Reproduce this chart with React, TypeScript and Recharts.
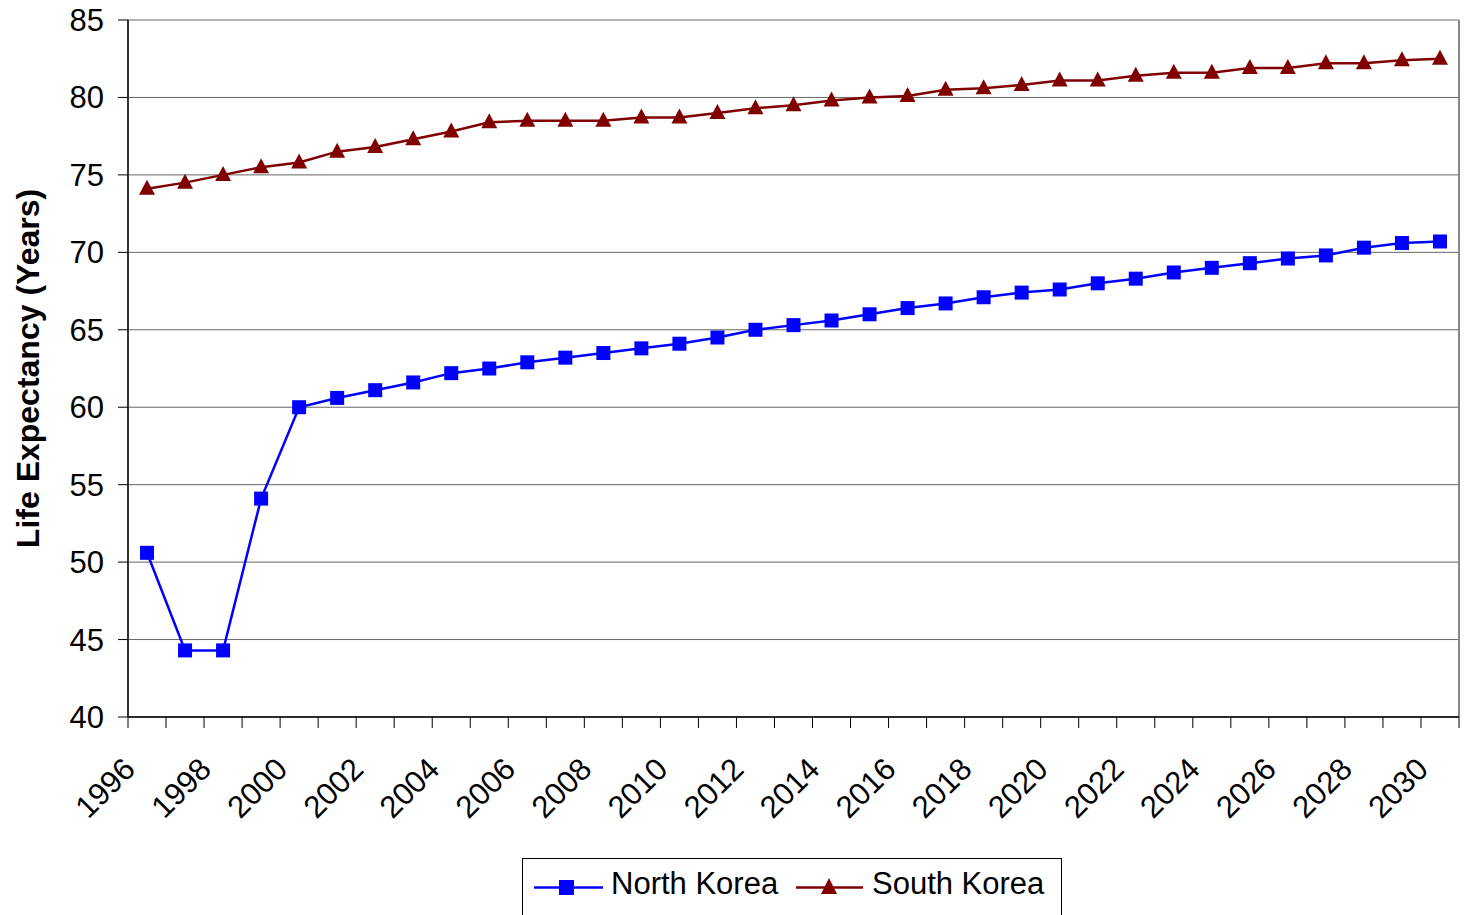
import React from 'react';
import { LineChart, Line, XAxis, YAxis, CartesianGrid, Legend, Label, ReferenceLine } from 'recharts';

const years = [1996, 1997, 1998, 1999, 2000, 2001, 2002, 2003, 2004, 2005, 2006, 2007, 2008, 2009, 2010, 2011, 2012, 2013, 2014, 2015, 2016, 2017, 2018, 2019, 2020, 2021, 2022, 2023, 2024, 2025, 2026, 2027, 2028, 2029, 2030];
const northKorea = [50.6, 44.3, 44.3, 54.1, 60.0, 60.6, 61.1, 61.6, 62.2, 62.5, 62.9, 63.2, 63.5, 63.8, 64.1, 64.5, 65.0, 65.3, 65.6, 66.0, 66.4, 66.7, 67.1, 67.4, 67.6, 68.0, 68.3, 68.7, 69.0, 69.3, 69.6, 69.8, 70.3, 70.6, 70.7];
const southKorea = [74.1, 74.5, 75.0, 75.5, 75.8, 76.5, 76.8, 77.3, 77.8, 78.4, 78.5, 78.5, 78.5, 78.7, 78.7, 79.0, 79.3, 79.5, 79.8, 80.0, 80.1, 80.5, 80.6, 80.8, 81.1, 81.1, 81.4, 81.6, 81.6, 81.9, 81.9, 82.2, 82.2, 82.4, 82.5];
const xTickLabels = [1996, 1998, 2000, 2002, 2004, 2006, 2008, 2010, 2012, 2014, 2016, 2018, 2020, 2022, 2024, 2026, 2028, 2030];
const xBoundaries = [1995.5, 1996.5, 1997.5, 1998.5, 1999.5, 2000.5, 2001.5, 2002.5, 2003.5, 2004.5, 2005.5, 2006.5, 2007.5, 2008.5, 2009.5, 2010.5, 2011.5, 2012.5, 2013.5, 2014.5, 2015.5, 2016.5, 2017.5, 2018.5, 2019.5, 2020.5, 2021.5, 2022.5, 2023.5, 2024.5, 2025.5, 2026.5, 2027.5, 2028.5, 2029.5, 2030.5];
const yTicks = [40, 45, 50, 55, 60, 65, 70, 75, 80, 85];

const data = years.map((y, i) => ({ year: y, nk: northKorea[i], sk: southKorea[i] }));
const allXTicks = [...xBoundaries, ...xTickLabels].sort((a, b) => a - b);

const FONT = '"Liberation Sans", Arial, sans-serif';
const NK_COLOR = '#0000FF';
const SK_COLOR = '#800000';

const SquareDot = (props: any) => {
  const { cx, cy, index } = props;
  if (cx == null || cy == null) return <g key={index} />;
  return <rect key={index} x={cx - 7} y={cy - 7} width={14} height={14} fill={NK_COLOR} />;
};

const TriangleDot = (props: any) => {
  const { cx, cy, index } = props;
  if (cx == null || cy == null) return <g key={index} />;
  return <polygon key={index} points={`${cx},${cy - 9} ${cx + 8},${cy + 6} ${cx - 8},${cy + 6}`} fill={SK_COLOR} />;
};

const XTick = (props: any) => {
  const { x, y, payload } = props;
  const v = payload.value;
  if (!Number.isInteger(v)) {
    return <line x1={x} x2={x} y1={y} y2={y + 11} stroke="#000" strokeWidth={1} />;
  }
  const ax = x - 10;
  const ay = y + 54;
  return (
    <text x={ax} y={ay} textAnchor="end" fontSize={31} fontFamily={FONT} fill="#000" transform={`rotate(-45, ${ax}, ${ay})`}>
      {v}
    </text>
  );
};

const LegendContent = () => (
  <div style={{ width: 540, height: 58, border: '1px solid #000', boxSizing: 'border-box', background: '#fff' }}>
    <svg width={538} height={56} style={{ display: 'block' }}>
      <line x1={11} x2={80} y1={28.5} y2={28.5} stroke={NK_COLOR} strokeWidth={2.5} />
      <rect x={36} y={21} width={15} height={15} fill={NK_COLOR} />
      <text x={88} y={35} fontSize={31} fontFamily={FONT} fill="#000">North Korea</text>
      <line x1={273} x2={340} y1={28.5} y2={28.5} stroke={SK_COLOR} strokeWidth={2.5} />
      <polygon points={`306,19 314,35 298,35`} fill={SK_COLOR} />
      <text x={349} y={35} fontSize={31} fontFamily={FONT} fill="#000">South Korea</text>
    </svg>
  </div>
);

export default function App() {
  return (
    <div style={{ position: 'absolute', left: 0, top: 0, width: 1464, height: 915, background: '#fff' }}>
      <LineChart width={1464} height={915} data={data} margin={{ top: 20, right: 5, bottom: 0, left: 0 }}>
        <CartesianGrid horizontal vertical={false} stroke="#666" strokeWidth={1} />
        <XAxis
          type="number"
          dataKey="year"
          domain={[1995.5, 2030.5]}
          allowDataOverflow
          ticks={allXTicks}
          interval={0}
          tick={<XTick />}
          tickLine={false}
          tickSize={0}
          tickMargin={0}
          axisLine={{ stroke: '#000', strokeWidth: 1.5 }}
          height={140}
        />
        <YAxis
          domain={[40, 85]}
          ticks={yTicks}
          interval={0}
          width={128}
          tickSize={10}
          tickMargin={14}
          tick={{ fontSize: 31, fontFamily: FONT, fill: '#000' }}
          tickLine={{ stroke: '#000' }}
          axisLine={{ stroke: '#333', strokeWidth: 2 }}
        >
          <Label
            value="Life Expectancy (Years)"
            angle={-90}
            position="center"
            dx={-36}
            style={{ fontSize: 32, fontWeight: 'bold', fontFamily: FONT, fill: '#000' }}
          />
        </YAxis>
        <ReferenceLine x={2030.5} stroke="#888" strokeWidth={2} />
        <Legend
          verticalAlign="bottom"
          content={<LegendContent />}
          wrapperStyle={{ left: 522, top: 858, bottom: 'auto', width: 540, height: 58 }}
        />
        <Line
          dataKey="nk"
          name="North Korea"
          stroke={NK_COLOR}
          strokeWidth={2.5}
          dot={<SquareDot />}
          activeDot={false}
          isAnimationActive={false}
        />
        <Line
          dataKey="sk"
          name="South Korea"
          stroke={SK_COLOR}
          strokeWidth={2.5}
          dot={<TriangleDot />}
          activeDot={false}
          isAnimationActive={false}
        />
      </LineChart>
    </div>
  );
}
